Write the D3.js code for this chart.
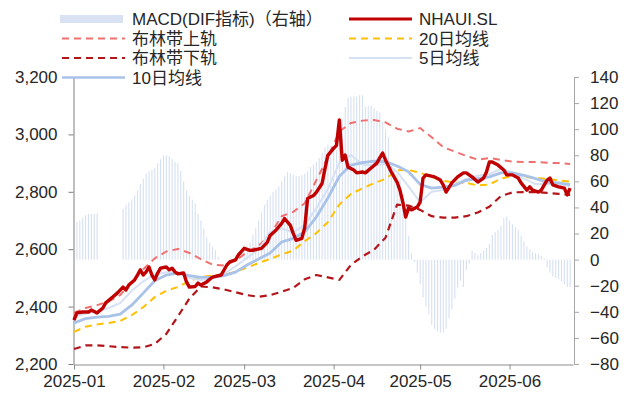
<!DOCTYPE html>
<html><head><meta charset="utf-8">
<script src="https://cdn.jsdelivr.net/npm/d3@7"></script>
<style>
body{margin:0;background:#fff}
svg{display:block}
text{font-family:"Liberation Sans",Arial,"Noto Sans CJK SC",sans-serif;fill:#262626}
</style>
</head><body>
<svg id="c" width="624" height="402"></svg>
<script>
// ---------- data ----------
const priceDates = ["01-01","01-02","01-04","01-06","01-07","01-09","01-11","01-12","01-14","01-16","01-18","01-19","01-20","01-22","01-23","01-24","01-25","01-26","01-27","01-28","01-29","01-30","01-31",
"02-02","02-03","02-04","02-05","02-06","02-08","02-09","02-10","02-12","02-13","02-14","02-16","02-18","02-21","02-23","02-24","02-26","02-27",
"03-01","03-03","03-04","03-07","03-09","03-10","03-12","03-14","03-15","03-17","03-18","03-19","03-21","03-22","03-23","03-25","03-26","03-28","03-29","03-30",
"04-01","04-02","04-03","04-04","04-05","04-06","04-08","04-09","04-11","04-12","04-14","04-16","04-17","04-18","04-19","04-21","04-23","04-24","04-25","04-26","04-27","04-28","04-30",
"05-01","05-02","05-03","05-06","05-08","05-09","05-10","05-12","05-14","05-16","05-17","05-19","05-21","05-23","05-24","05-25","05-26","05-28","05-30","05-31",
"06-02","06-04","06-05","06-07","06-08","06-09","06-11","06-12","06-14","06-15","06-16","06-18","06-20","06-21","06-22"];
const priceValues = [2353,2378,2381,2381,2388,2378,2395,2413,2430,2447,2468,2458,2475,2493,2510,2528,2510,2521,2538,2510,2493,2517,2534,
2538,2528,2534,2521,2514,2517,2486,2468,2470,2482,2475,2486,2503,2510,2545,2556,2563,2580,
2603,2596,2596,2603,2624,2648,2666,2690,2707,2683,2655,2631,2638,2676,2777,2787,2798,2829,2880,2927,
2951,2962,3050,2910,2928,2886,2876,2866,2869,2866,2883,2900,2918,2935,2911,2869,2834,2806,2764,2712,2744,2737,2747,
2764,2848,2859,2852,2841,2824,2799,2831,2852,2866,2866,2852,2834,2848,2869,2904,2904,2893,2876,2859,
2859,2848,2831,2806,2817,2806,2799,2806,2841,2848,2824,2817,2813,2789,2813];

const lineDates = ["01-01","01-05","01-09","01-13","01-17","01-21","01-25","01-29","02-02","02-06","02-10","02-14","02-18","02-22","02-26",
"03-02","03-06","03-10","03-14","03-18","03-22","03-26","03-30","04-03","04-07","04-11","04-15","04-19","04-23","04-27",
"05-01","05-05","05-09","05-13","05-17","05-21","05-25","05-29","06-02","06-06","06-10","06-14","06-18","06-22"];
const ma5 = [2364,2376,2383,2395,2412,2455,2488,2512,2520,2520,2500,2493,2498,2514,2540,
2570,2600,2660,2672,2658,2685,2742,2810,2900,2928,2895,2892,2898,2870,2818,
2764,2800,2806,2826,2845,2856,2862,2880,2868,2846,2827,2828,2826,2820];
const ma10 = [2343,2358,2363,2366,2374,2405,2447,2490,2510,2517,2508,2502,2502,2508,2520,
2545,2566,2587,2625,2638,2660,2712,2778,2854,2893,2902,2907,2905,2890,2870,
2826,2813,2816,2822,2840,2846,2852,2866,2866,2857,2846,2834,2831,2825];
const ma20 = [2312,2330,2338,2343,2350,2370,2398,2433,2455,2468,2489,2504,2508,2511,2521,
2536,2552,2566,2582,2595,2628,2656,2694,2756,2792,2812,2830,2845,2875,2876,
2866,2851,2838,2832,2831,2822,2825,2846,2855,2852,2848,2845,2840,2835];
const bollUpper = [2378,2395,2405,2418,2440,2485,2530,2568,2592,2601,2587,2565,2546,2543,2560,
2590,2612,2650,2715,2730,2760,2840,2920,3010,3040,3048,3050,3042,3020,3010,
3022,2990,2956,2940,2925,2912,2918,2911,2905,2904,2904,2901,2900,2897];
const bollLower = [2252,2265,2265,2262,2259,2257,2258,2270,2305,2366,2428,2470,2467,2460,2450,
2440,2434,2440,2452,2465,2495,2510,2502,2493,2545,2575,2598,2640,2755,2752,
2737,2715,2710,2710,2715,2728,2748,2785,2798,2799,2799,2796,2793,2789];

// MACD (DIF) daily values from 2025-01-01, null where no bar is visible
const macdStart = "2025-01-01";
const macdValues = [
 null,29,30,32,34,35,35,35,35.5,null,null,null,null,null,null,null,null,39,42,44,46,49,53,58,62,66,68,69,70,74,77,
 80,80,79,77,75,74,68,60,53,49,46,43,35,30,24,17,13,10,7.5,2,null,null,null,null,null,null,null,null,
 5,9,13,19,24,30,36,42,46,49,52,54,56,60,64,67,66,65,64,64,65,66,68,71,73,75,78,82,86,88,87,
 85,84,95,107,117,124,125,125,125,126,126,117,118,118,116,114,113,106,100,94,72,70,66,62,50,40,18,5,-2,-10,
 -19,-29,-36,-42,-50,-53,-55,-56,-56,-53,-45,-38,-30,-22,-16,-21,-8,-3,7,5,3.5,5,7,9,12,19,21,23,26,32,33,
 30,27,25,23,18,14,10,8,6,5,4,3,1,-6,-10,-13,-14,-15,-17,-19,-21,-21];

const leftTicks = [2200,2400,2600,2800,3000,3200];
const rightTicks = [-80,-60,-40,-20,0,20,40,60,80,100,120,140];
const monthTicks = ["2025-01-01","2025-02-01","2025-03-01","2025-04-01","2025-05-01","2025-06-01"];
const xDomain = ["2025-01-01","2025-06-23"];

// ---------- chart ----------
const parse = d3.utcParse("%Y-%m-%d");
const pd = s => parse("2025-" + s);
const svg = d3.select("#c");

const x = d3.scaleUtc().domain(xDomain.map(parse)).range([74, 573]);
const yL = d3.scaleLinear().domain([2200, 3200]).range([364, 77]);
const yR = d3.scaleLinear().domain([-80, 140]).range([364, 77]);

// MACD bars
const t0 = parse(macdStart);
const macd = macdValues.map((v, i) => ({d: d3.utcDay.offset(t0, i), v})).filter(o => o.v !== null);
svg.append("g").selectAll("rect").data(macd).join("rect")
  .attr("x", o => x(o.d) - 0.5)
  .attr("width", 1.1)
  .attr("y", o => Math.min(yR(o.v), yR(0)))
  .attr("height", o => Math.abs(yR(o.v) - yR(0)))
  .attr("fill", "#d6e0f3");

// axes
const fs = 17;
const gL = svg.append("g").attr("transform", "translate(73.5,0)")
  .call(d3.axisLeft(yL).tickValues(leftTicks).tickFormat(d3.format(",")).tickSizeInner(5).tickSizeOuter(0).tickPadding(11));
gL.select(".domain").attr("stroke", "#7f7f7f");
gL.selectAll(".tick line").attr("stroke", "#7f7f7f");

const gR = svg.append("g").attr("transform", "translate(574,0)")
  .call(d3.axisRight(yR).tickValues(rightTicks).tickSizeInner(5).tickSizeOuter(0).tickPadding(11));
gR.select(".domain").attr("stroke", "#a6a6a6");
gR.selectAll(".tick line").attr("stroke", "#a6a6a6");

const gB = svg.append("g").attr("transform", "translate(0,364.5)")
  .call(d3.axisBottom(x).tickValues(monthTicks.map(parse)).tickFormat(d3.utcFormat("%Y-%m")).tickSizeInner(5).tickSizeOuter(0).tickPadding(5));
gB.select(".domain").attr("stroke", "#8c8c8c");
gB.selectAll(".tick line").attr("stroke", "#8c8c8c");

svg.selectAll("g").attr("font-family", null).attr("font-size", null);
svg.selectAll(".tick text").attr("fill", "#262626").attr("font-size", fs);

// lines
const mk = (dates, vals) => dates.map((s, i) => ({d: pd(s), v: vals[i]}));
const line = d3.line().x(o => x(o.d)).y(o => yL(o.v));
const series = [
  {data: mk(lineDates, bollUpper), stroke: "#f07070", w: 2, dash: "7,5"},
  {data: mk(lineDates, bollLower), stroke: "#b3151b", w: 2.2, dash: "7,5"},
  {data: mk(lineDates, ma20), stroke: "#ffc000", w: 2, dash: "7,5"},
  {data: mk(lineDates, ma5), stroke: "#d6e1f3", w: 2},
  {data: mk(lineDates, ma10), stroke: "#a9c2e8", w: 2.8},
  {data: mk(priceDates, priceValues), stroke: "#c00000", w: 3.4}
];
svg.append("g").selectAll("path").data(series).join("path")
  .attr("d", s => line(s.data))
  .attr("fill", "none")
  .attr("stroke", s => s.stroke)
  .attr("stroke-width", s => s.w)
  .attr("stroke-dasharray", s => s.dash || null)
  .attr("stroke-linejoin", "round");

// legend
const legend = [
  {t: "MACD(DIF指标)（右轴）", x: 60, y: 19, kind: "rect", c: "#d9e2f3"},
  {t: "NHAUI.SL", x: 347, y: 19, kind: "line", c: "#c00000", w: 3},
  {t: "布林带上轨", x: 60, y: 38.5, kind: "line", c: "#f07070", w: 2, dash: "7,5"},
  {t: "20日均线", x: 347, y: 38.5, kind: "line", c: "#ffc000", w: 2, dash: "7,5"},
  {t: "布林带下轨", x: 60, y: 58, kind: "line", c: "#b3151b", w: 2.2, dash: "7,5"},
  {t: "5日均线", x: 347, y: 58, kind: "line", c: "#d6e1f3", w: 2},
  {t: "10日均线", x: 60, y: 77.5, kind: "line", c: "#a9c2e8", w: 2.5}
];
const lg = svg.append("g").selectAll("g").data(legend).join("g");
lg.filter(d => d.kind === "rect").append("rect")
  .attr("x", d => d.x).attr("y", d => d.y - 4).attr("width", 63).attr("height", 8).attr("fill", d => d.c);
lg.filter(d => d.kind === "line").append("line")
  .attr("x1", d => d.x + 2).attr("x2", d => d.x + 65).attr("y1", d => d.y).attr("y2", d => d.y)
  .attr("stroke", d => d.c).attr("stroke-width", d => d.w).attr("stroke-dasharray", d => d.dash || null);
lg.append("text").attr("x", d => d.x + 72).attr("y", d => d.y).attr("dy", "0.36em")
  .attr("font-size", 17).text(d => d.t);
</script>
</body></html>
